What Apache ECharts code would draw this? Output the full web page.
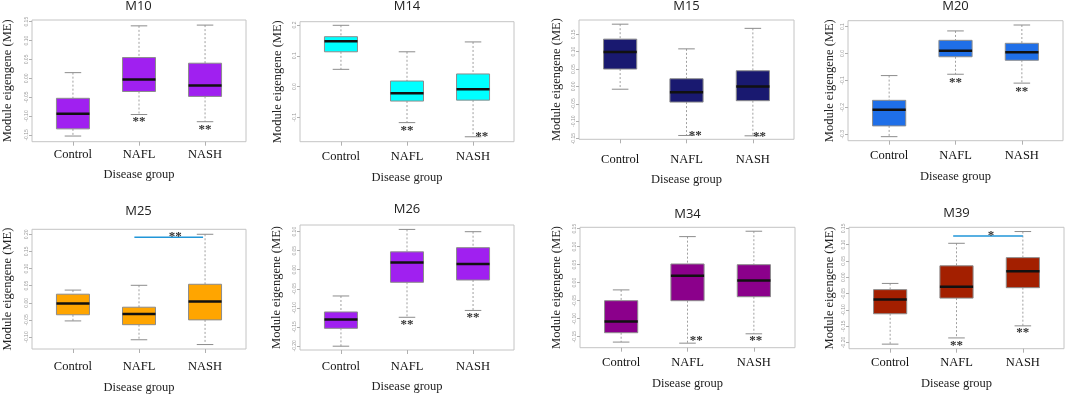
<!DOCTYPE html>
<html>
<head>
<meta charset="utf-8">
<script src="https://cdn.jsdelivr.net/npm/echarts@6/dist/echarts.min.js"></script>
<style>
html, body { margin: 0; padding: 0; background: #fff; }
#main { width: 1065px; height: 395px; }
</style>
</head>
<body>
<div id="main"></div>
<script>
var groups = ['Control', 'NAFL', 'NASH'];
var panelNames = ['M10', 'M14', 'M15', 'M20', 'M25', 'M26', 'M34', 'M39'];

// each box: [lower whisker, Q1, median, Q3, upper whisker]
var boxM10 = [[-0.153, -0.134, -0.094, -0.053, 0.015], [-0.096, -0.035, -0.003, 0.055, 0.139], [-0.115, -0.048, -0.019, 0.040, 0.141]];
var boxM14 = [[0.056, 0.113, 0.147, 0.162, 0.199], [-0.117, -0.047, -0.022, 0.018, 0.113], [-0.163, -0.044, -0.009, 0.041, 0.145]];
var boxM15 = [[-0.008, 0.050, 0.099, 0.136, 0.179], [-0.141, -0.045, -0.017, 0.022, 0.108], [-0.142, -0.041, 0.000, 0.045, 0.167]];
var boxM20 = [[-0.309, -0.269, -0.209, -0.174, -0.082], [-0.077, -0.012, 0.010, 0.049, 0.084], [-0.110, -0.025, 0.005, 0.038, 0.106]];
var boxM25 = [[-0.053, -0.035, -0.002, 0.025, 0.037], [-0.108, -0.064, -0.033, -0.013, 0.051], [-0.122, -0.050, 0.004, 0.054, 0.200]];
var boxM26 = [[-0.201, -0.154, -0.131, -0.111, -0.069], [-0.125, -0.033, 0.019, 0.047, 0.106], [-0.107, -0.027, 0.015, 0.058, 0.100]];
var boxM34 = [[-0.165, -0.139, -0.108, -0.050, -0.020], [-0.168, -0.050, 0.019, 0.052, 0.128], [-0.142, -0.039, 0.006, 0.050, 0.143]];
var boxM39 = [[-0.205, -0.112, -0.068, -0.038, -0.019], [-0.186, -0.064, -0.029, 0.035, 0.104], [-0.149, -0.032, 0.018, 0.060, 0.140]];

// y tick values
var ticksM10 = [-0.15, -0.10, -0.05, 0.00, 0.05, 0.10, 0.15];
var ticksM14 = [-0.1, 0.0, 0.1, 0.2];
var ticksM15 = [-0.15, -0.10, -0.05, 0.00, 0.05, 0.10, 0.15];
var ticksM20 = [-0.3, -0.2, -0.1, 0.0, 0.1];
var ticksM25 = [-0.10, -0.05, 0.00, 0.05, 0.10, 0.15, 0.20];
var ticksM26 = [-0.20, -0.15, -0.10, -0.05, 0.00, 0.05, 0.10];
var ticksM34 = [-0.15, -0.10, -0.05, 0.00, 0.05, 0.10, 0.15];
var ticksM39 = [-0.20, -0.15, -0.10, -0.05, 0.00, 0.05, 0.10, 0.15];

// y axis extents [min, max]
var rangeM10 = [-0.168, 0.1545];
var rangeM14 = [-0.179, 0.2107];
var rangeM15 = [-0.152, 0.191];
var rangeM20 = [-0.324, 0.122];
var rangeM25 = [-0.135, 0.2145];
var rangeM26 = [-0.211, 0.1176];
var rangeM34 = [-0.1806, 0.1539];
var rangeM39 = [-0.219, 0.153];

// significance marks: [x position, y value, number of stars]
var starsM10 = [[2, -0.106, 2], [3, -0.127, 2]];
var starsM14 = [[2, -0.133, 2], [3.13, -0.152, 2]];
var starsM15 = [[2.13, -0.133, 2], [3.10, -0.135, 2]];
var starsM20 = [[2, -0.098, 2], [3, -0.129, 2]];
var starsM25 = [];
var starsM26 = [[2, -0.137, 2], [3, -0.117, 2]];
var starsM34 = [[2.13, -0.154, 2], [3.03, -0.153, 2]];
var starsM39 = [[2, -0.200, 2], [3, -0.162, 2]];

// NAFL vs NASH brackets: [x start, x end, y value, stars, star x, star y]
var bracketM25 = [[1.93, 2.97, 0.191, 2, 2.55, 0.202]];
var bracketM39 = [[1.95, 3.00, 0.126, 1, 2.52, 0.137]];

var boxes = [boxM10, boxM14, boxM15, boxM20, boxM25, boxM26, boxM34, boxM39];
var ticks = [ticksM10, ticksM14, ticksM15, ticksM20, ticksM25, ticksM26, ticksM34, ticksM39];
var ranges = [rangeM10, rangeM14, rangeM15, rangeM20, rangeM25, rangeM26, rangeM34, rangeM39];
var stars = [starsM10, starsM14, starsM15, starsM20, starsM25, starsM26, starsM34, starsM39];
var brackets = [[], [], [], [], bracketM25, [], [], bracketM39];

var fills = ['#A020F0', '#00FFFF', '#191970', '#1F6FE8', '#FFA500', '#A020F0', '#8B008B', '#A31F00'];
var decimals = [2, 1, 2, 1, 2, 2, 2, 2];
var serif = '"Liberation Serif", "DejaVu Serif", serif';

// frame: left, top, right, bottom, title top, y name gap, label margin, x name gap
var frames = [
	[31, 20, 246, 141.7, 0, 18, 7, 27],
	[300, 21.7, 514, 141.7, 0, 16, 8.5, 29.5],
	[579, 20, 794, 139.3, 0, 16, 13.5, 33.5],
	[848, 20.7, 1063, 140.7, 0, 12, 9, 29.5],
	[31, 229.3, 246, 350.3, 205, 18, 11, 32],
	[300, 225, 514, 350, 203, 17, 10, 30],
	[580, 227.3, 795, 347.7, 208, 17, 9, 30],
	[849, 227.3, 1064, 348.7, 207, 13, 8, 28.5]
];

var dom = document.getElementById('main');
var myChart = echarts.init(dom);

function boxRenderer(fill) {
	return function (params, api) {
		var x = api.value(0);
		var pl = api.coord([x, api.value(1)]);
		var p1 = api.coord([x, api.value(2)]);
		var pm = api.coord([x, api.value(3)]);
		var p3 = api.coord([x, api.value(4)]);
		var ph = api.coord([x, api.value(5)]);
		var hw = api.size([0.25, 0])[0];
		var cx = pm[0];
		var dash = { stroke: '#a0a0a0', lineWidth: 1, lineDash: [2, 2] };
		var solid = { stroke: '#8c8c8c', lineWidth: 1 };
		return {
			type: 'group',
			children: [
				{ type: 'line', shape: { x1: cx, y1: ph[1], x2: cx, y2: p3[1] }, style: dash },
				{ type: 'line', shape: { x1: cx, y1: p1[1], x2: cx, y2: pl[1] }, style: dash },
				{ type: 'line', shape: { x1: cx - hw / 2, y1: ph[1], x2: cx + hw / 2, y2: ph[1] }, style: solid },
				{ type: 'line', shape: { x1: cx - hw / 2, y1: pl[1], x2: cx + hw / 2, y2: pl[1] }, style: solid },
				{ type: 'rect', shape: { x: cx - hw, y: p3[1], width: 2 * hw, height: p1[1] - p3[1] },
					style: { fill: fill, stroke: '#8c8c8c', lineWidth: 1 } },
				{ type: 'line', shape: { x1: cx - hw, y1: pm[1], x2: cx + hw, y2: pm[1] },
					style: { stroke: '#111', lineWidth: 2.5 } }
			]
		};
	};
}

function starText(n) {
	var s = '';
	for (var k = 0; k < n; k++) s += '*';
	return s;
}

var starFont = 'bold 13px ' + serif;

function starRenderer(params, api) {
	var p = api.coord([api.value(0), api.value(1)]);
	return {
		type: 'text', x: p[0], y: p[1] + 3,
		style: { text: starText(api.value(2)), font: starFont, fill: '#333', align: 'center', verticalAlign: 'middle' }
	};
}

function bracketRenderer(params, api) {
	var a = api.coord([api.value(0), api.value(2)]);
	var b = api.coord([api.value(1), api.value(2)]);
	var s = api.coord([api.value(4), api.value(5)]);
	return {
		type: 'group',
		children: [
			{ type: 'line', shape: { x1: a[0], y1: a[1], x2: b[0], y2: b[1] }, style: { stroke: '#2196D8', lineWidth: 1.5 } },
			{ type: 'text', x: s[0], y: s[1] + 3,
				style: { text: starText(api.value(3)), font: starFont, fill: '#333', align: 'center', verticalAlign: 'middle' } }
		]
	};
}

var titles = [], grids = [], xAxes = [], yAxes = [], series = [];

panelNames.forEach(function (name, i) {
	var f = frames[i];
	var dec = decimals[i];
	titles.push({
		text: name, left: (f[0] + f[2]) / 2, top: f[4], textAlign: 'center', padding: 0,
		textStyle: { fontSize: 13, fontWeight: 'normal', fontFamily: 'Open Sans', color: '#222' }
	});
	grids.push({
		left: f[0], top: f[1], width: f[2] - f[0], height: f[3] - f[1],
		show: true, borderColor: '#c4c4c4', borderWidth: 1, backgroundColor: 'transparent'
	});
	xAxes.push({
		gridIndex: i, type: 'value', min: 0.38, max: 3.62,
		name: 'Disease group', nameLocation: 'middle', nameGap: f[7],
		nameTextStyle: { fontFamily: serif, fontSize: 12.5, color: '#222' },
		axisLine: { show: false, onZero: false },
		axisTick: { show: true, length: 4, customValues: [1, 2, 3], lineStyle: { color: '#b0b0b0' } },
		axisLabel: {
			customValues: [1, 2, 3], margin: f[6],
			fontFamily: serif, fontSize: 12.5, color: '#111',
			formatter: function (v) { return groups[Math.round(v) - 1]; }
		},
		splitLine: { show: false }
	});
	yAxes.push({
		gridIndex: i, type: 'value', min: ranges[i][0], max: ranges[i][1],
		name: 'Module eigengene (ME)', nameLocation: 'middle', nameGap: f[5],
		nameTextStyle: { fontFamily: serif, fontSize: 12.5, color: '#222' },
		axisLine: { show: false, onZero: false },
		axisTick: { show: true, length: 3, customValues: ticks[i], lineStyle: { color: '#b0b0b0' } },
		axisLabel: {
			customValues: ticks[i], rotate: 90, margin: 3, fontSize: 5, color: '#9a9a9a',
			formatter: function (v) { return v.toFixed(dec); }
		},
		splitLine: { show: false }
	});
	series.push({
		type: 'custom', xAxisIndex: i, yAxisIndex: i,
		data: boxes[i].map(function (b, k) { return [k + 1].concat(b); }),
		encode: { x: 0, y: [1, 2, 3, 4, 5] },
		renderItem: boxRenderer(fills[i]),
		silent: true
	});
	if (stars[i].length) {
		series.push({
			type: 'custom', xAxisIndex: i, yAxisIndex: i,
			data: stars[i], encode: { x: 0, y: 1 },
			renderItem: starRenderer, silent: true
		});
	}
	if (brackets[i].length) {
		series.push({
			type: 'custom', xAxisIndex: i, yAxisIndex: i,
			data: brackets[i], encode: { x: [0, 1, 4], y: [2, 5] },
			renderItem: bracketRenderer, silent: true
		});
	}
});

var option = {
	animation: false,
	backgroundColor: '#fff',
	title: titles,
	grid: grids,
	xAxis: xAxes,
	yAxis: yAxes,
	series: series
};
if (option && typeof option === "object") {
	myChart.setOption(option, true);
}
</script>
</body>
</html>
